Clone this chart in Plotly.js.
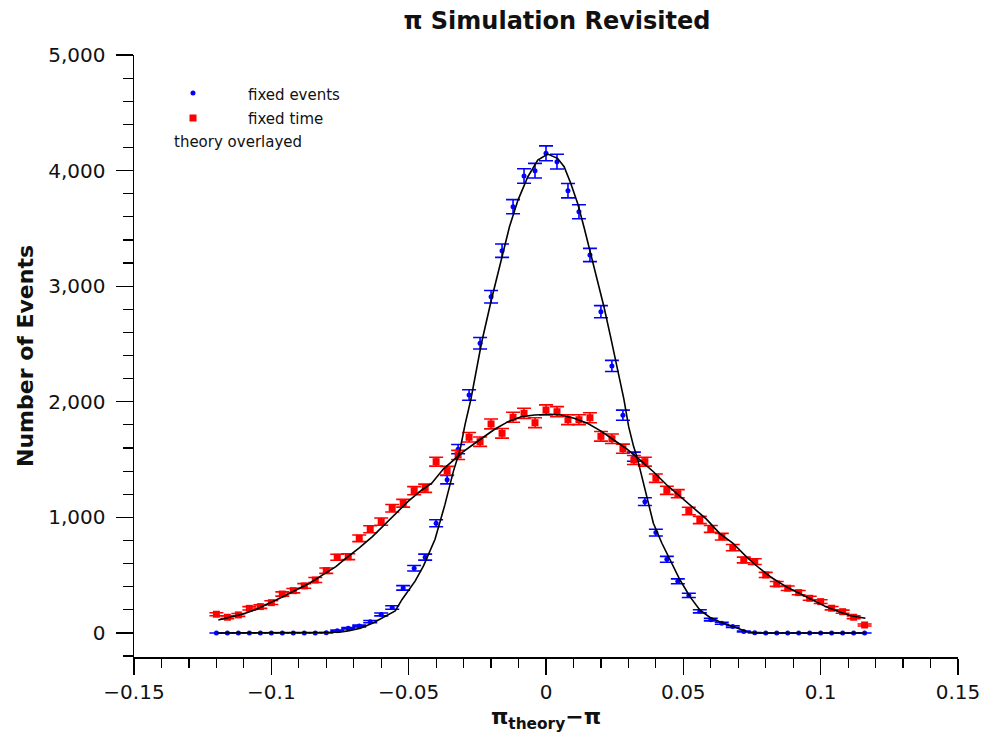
<!DOCTYPE html>
<html><head><meta charset="utf-8">
<script src="https://cdn.plot.ly/plotly-3.0.1.min.js"></script>
<style>html,body{margin:0;padding:0;background:#fff}</style>
</head><body>
<div id="chart" style="width:998px;height:737px"></div>
<script>
const binX = [-0.12,-0.116,-0.112,-0.108,-0.104,-0.1,-0.096,-0.092,-0.088,-0.084,
  -0.08,-0.076,-0.072,-0.068,-0.064,-0.06,-0.056,-0.052,-0.048,-0.044,
  -0.04,-0.036,-0.032,-0.028,-0.024,-0.02,-0.016,-0.012,-0.008,-0.004,
  0,0.004,0.008,0.012,0.016,0.02,0.024,0.028,0.032,0.036,
  0.04,0.044,0.048,0.052,0.056,0.06,0.064,0.068,0.072,0.076,
  0.08,0.084,0.088,0.092,0.096,0.1,0.104,0.108,0.112,0.116];
const fixedEvents = [0,0,0,0,0,0,0,0,0,0,
  2,20,40,60,98,160,220,390,560,656,
  949,1326,1590,2059,2506,2909,3307,3688,3953,3999,
  4149,4077,3826,3644,3270,2779,2310,1884,1525,1136,
  868,637,447,325,187,115,84,55,12,2,
  0,0,0,0,0,0,0,0,0,0];
const fixedTime = [162,136,156,213,228,262,337,366,407,458,
  539,655,660,819,897,963,1079,1122,1231,1252,
  1482,1404,1540,1693,1655,1808,1727,1866,1900,1819,
  1929,1914,1845,1845,1862,1701,1680,1594,1496,1482,
  1339,1234,1205,1055,977,900,833,738,631,617,
  502,424,387,349,300,271,214,184,136,69];
const theoryEventsX = [-0.1196,-0.0795,-0.0752,-0.0716,-0.0676,-0.0632,-0.0596,-0.0572,-0.0549,-0.0524,
  -0.0476,-0.0446,-0.0404,-0.0368,-0.0337,-0.0313,-0.0295,
  -0.0274,-0.0259,-0.0235,-0.0199,-0.0163,-0.0133,-0.0102,-0.0066,-0.0030,0.0006,
  0.0042,0.0066,0.0090,0.0115,0.0138,0.0163,0.0187,0.0211,0.0235,0.0259,
  0.0283,0.0301,0.0319,0.0331,0.0343,0.0368,0.0391,0.0422,0.0452,0.0488,
  0.0524,0.0560,0.0596,0.0632,0.0681,0.0729,0.0765,0.1164];
const theoryEventsY = [0,0,6,20,40,84,127,156,190,290,
  450,580,810,1110,1400,1583,1800,
  2015,2217,2506,2880,3226,3514,3745,3947,4091,4143,
  4106,4034,3890,3717,3514,3284,3053,2822,2563,2304,
  2030,1785,1612,1525,1410,1150,949,776,631,458,
  314,199,136,98,55,12,0,0];
const theoryTimeX = [-0.1193,-0.1150,-0.1102,-0.1054,-0.1006,-0.0958,-0.0910,-0.0861,-0.0813,-0.0765,
  -0.0729,-0.0681,-0.0632,-0.0590,-0.0548,-0.0500,-0.0452,-0.0416,-0.0373,-0.0337,
  -0.0301,-0.0259,-0.0223,-0.0187,-0.0138,-0.0090,-0.0042,0.0018,0.0054,0.0102,
  0.0151,0.0199,0.0247,0.0295,0.0343,0.0391,0.0440,0.0488,0.0536,0.0584,
  0.0632,0.0681,0.0729,0.0777,0.0825,0.0874,0.0922,0.0970,0.1018,0.1066,
  0.1114,0.1163];
const theoryTimeY = [112,136,164,205,257,314,372,430,502,574,
  646,733,833,930,1035,1143,1237,1295,1420,1496,
  1568,1641,1698,1762,1828,1871,1886,1892,1886,1857,
  1814,1748,1669,1590,1496,1395,1280,1179,1078,985,
  862,776,660,560,473,401,343,285,228,184,
  147,127];
const legendLabels = ["fixed events", "fixed time", "theory overlayed"];

const FONT = "DejaVu Sans, Noto Sans, sans-serif";
const traces = [
  {x: binX, y: fixedEvents, type: 'scatter', mode: 'markers', name: legendLabels[0],
   marker: {color: 'rgb(0,0,255)', size: 5, symbol: 'circle'},
   error_y: {type: 'sqrt', visible: true, color: 'rgb(0,0,255)', thickness: 1.6, width: 7}},
  {x: binX, y: fixedTime, type: 'scatter', mode: 'markers', name: legendLabels[1],
   marker: {color: 'rgb(255,0,0)', size: 7, symbol: 'square'},
   error_y: {type: 'sqrt', visible: true, color: 'rgb(255,0,0)', thickness: 1.6, width: 7}},
  {x: theoryEventsX, y: theoryEventsY, type: 'scatter', mode: 'lines', name: legendLabels[2],
   line: {color: 'black', width: 1.6}},
  {x: theoryTimeX, y: theoryTimeY, type: 'scatter', mode: 'lines', name: legendLabels[2],
   line: {color: 'black', width: 1.6}}
];

const L = 134, R = 958, T = 55, B = 657;
function px(xp){ return (xp-L)/(R-L); }
function py(yp){ return (B-yp)/(B-T); }

const layout = {
  width: 998, height: 737,
  margin: {l: L, r: 998-R, t: T, b: 737-B},
  paper_bgcolor: 'white', plot_bgcolor: 'white',
  showlegend: false,
  font: {family: FONT, color: '#111', size: 20},
  title: {text: '<b>π Simulation Revisited</b>', x: 557/998, xref: 'container', xanchor: 'center',
          y: 1 - 21/737, yref: 'container', yanchor: 'middle',
          font: {family: FONT, size: 24, color: '#111'}},
  xaxis: {range: [-0.15, 0.15], dtick: 0.05, tick0: 0, showgrid: false, zeroline: false,
          showline: true, linecolor: 'black', linewidth: 1.5, mirror: false,
          ticks: 'outside', ticklen: 16, tickwidth: 1.2, tickcolor: 'black',
          minor: {dtick: 0.01, ticks: 'outside', ticklen: 9, tickwidth: 1.2, tickcolor: 'black', showgrid: false},
          tickfont: {family: FONT, size: 20, color: '#111'},
          title: {text: '<b>π<sub>theory</sub>−π</b>', standoff: 6, font: {family: FONT, size: 22, color: '#111'}}},
  yaxis: {range: [-208, 5000], dtick: 1000, tick0: 0, tickformat: ',d', showgrid: false, zeroline: false,
          showline: true, linecolor: 'black', linewidth: 1.5,
          ticks: 'outside', ticklen: 17, tickwidth: 1.2, tickcolor: 'black', ticklabelstandoff: 6,
          minor: {dtick: 200, ticks: 'outside', ticklen: 10, tickwidth: 1.2, tickcolor: 'black', showgrid: false},
          tickfont: {family: FONT, size: 20, color: '#111'},
          title: {text: '<b>Number of Events</b>', standoff: 8, font: {family: FONT, size: 22, color: '#111'}}},
  shapes: [
    {type: 'circle', xref: 'paper', yref: 'paper', x0: px(190.5), x1: px(195.5), y0: py(95.5), y1: py(90.5),
     fillcolor: 'rgb(0,0,255)', line: {width: 0}},
    {type: 'rect', xref: 'paper', yref: 'paper', x0: px(189.5), x1: px(196.5), y0: py(121.5), y1: py(114.5),
     fillcolor: 'rgb(255,0,0)', line: {width: 0}}
  ],
  annotations: [
    {text: legendLabels[0], xref: 'paper', yref: 'paper', x: px(246), y: py(95), xanchor: 'left', yanchor: 'middle',
     showarrow: false, font: {family: FONT, size: 15, color: '#111'}},
    {text: legendLabels[1], xref: 'paper', yref: 'paper', x: px(246), y: py(119), xanchor: 'left', yanchor: 'middle',
     showarrow: false, font: {family: FONT, size: 15, color: '#111'}},
    {text: legendLabels[2], xref: 'paper', yref: 'paper', x: px(172), y: py(142), xanchor: 'left', yanchor: 'middle',
     showarrow: false, font: {family: FONT, size: 15, color: '#111'}}
  ]
};
Plotly.newPlot('chart', traces, layout, {displayModeBar: false, staticPlot: true});
</script>
</body></html>
